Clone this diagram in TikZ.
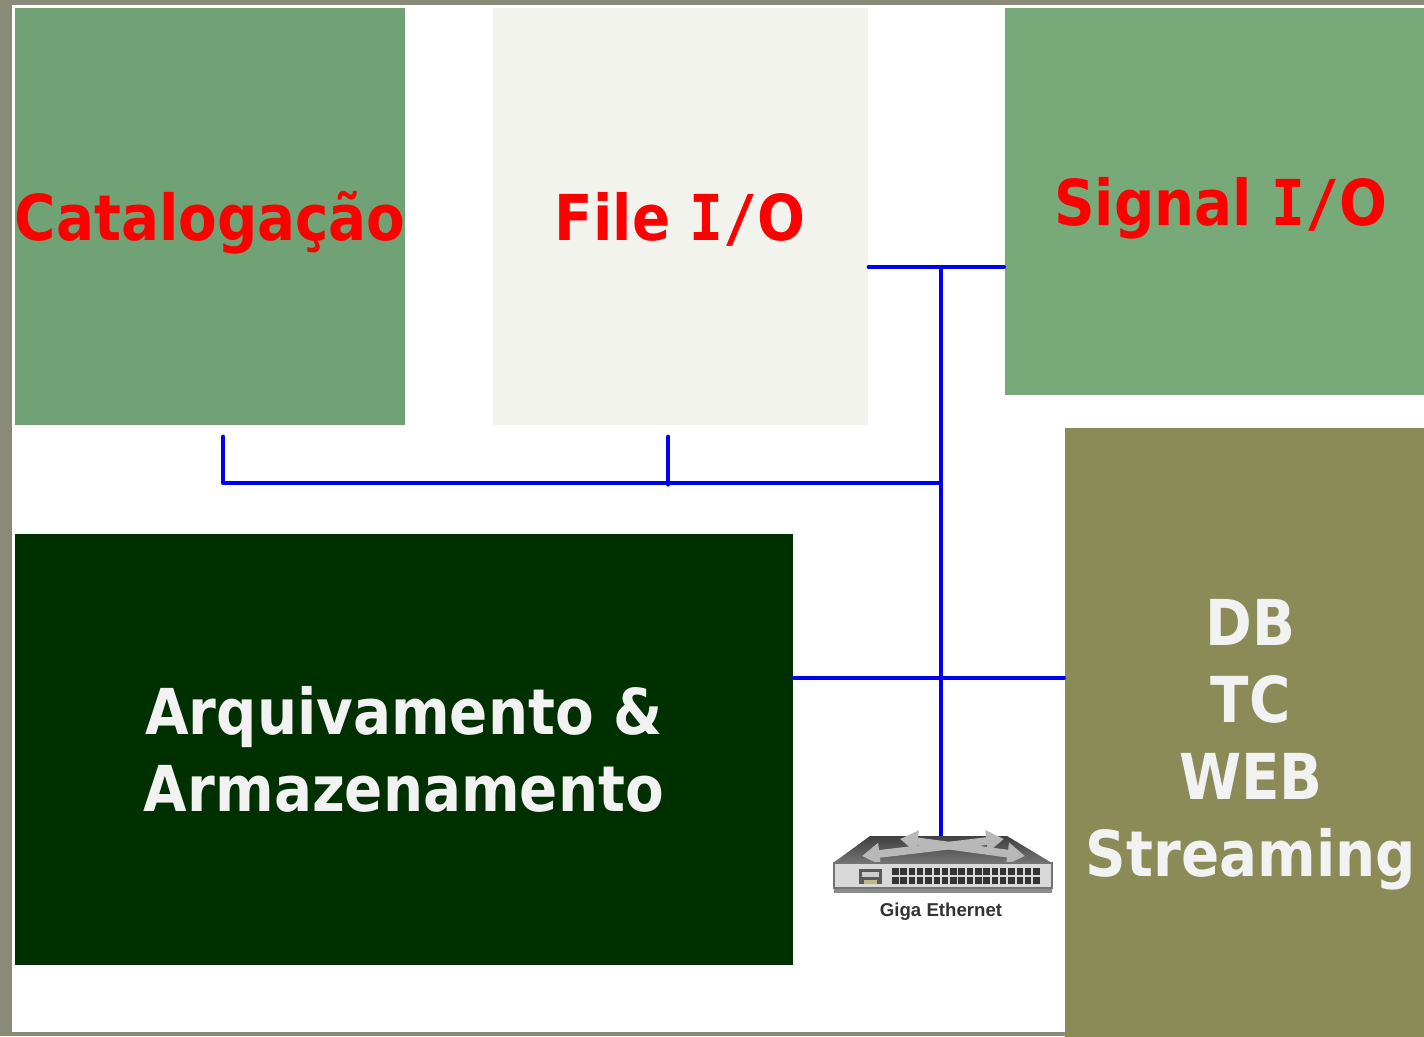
\documentclass[tikz,border=0pt]{standalone}
\usepackage{fontspec}
\newfontfamily\boxfont{DejaVu Sans}[FakeStretch=0.89]
\newfontfamily\slabfont{DejaVu Sans Mono}[FakeStretch=0.89]
\newfontfamily\netfont{Liberation Sans}
\usetikzlibrary{positioning,calc,arrows.meta}

\definecolor{framegray}{HTML}{898A78}
\definecolor{catgreen}{HTML}{71A276}
\definecolor{filebg}{HTML}{F2F3EC}
\definecolor{siggreen}{HTML}{78A978}
\definecolor{arqgreen}{HTML}{003000}
\definecolor{dbolive}{HTML}{8A8B56}
\definecolor{busblue}{HTML}{0000F0}
\definecolor{lighttext}{HTML}{F2F2F2}
\definecolor{netgray}{HTML}{333333}

\newcommand{\iotext}{{\slabfont I/}O}

\begin{document}
\begin{tikzpicture}[x=0.01cm,y=-0.01cm,
	box/.style={rectangle, anchor=north west, inner sep=0pt, align=center, text depth=0pt,
		font=\boxfont\bfseries\fontsize{18}{21.9}\selectfont},
	bus/.style={busblue, line width=1.15pt, line cap=round, line join=round},
	port/.style={fill=netgray}]
	\useasboundingbox (0,0) rectangle (1424,1036);
	\fill[framegray] (0,0) rectangle (1424,1036);
	\fill[white] (12,5) rectangle (1424,1032);
	
	% boxes
	\node[box, fill=catgreen, text=red, minimum width=3.88cm, minimum height=4.17cm] (cat) at (14,7) {Catalogação};
	\node[box, fill=filebg, text=red, minimum width=3.75cm, minimum height=4.17cm] (fileio) at (492,7) {File \iotext};
	\node[box, fill=siggreen, text=red, minimum width=4.20cm, minimum height=3.87cm] (signal) at (1004,7) {\hspace*{0.12cm}Signal \iotext};
	\node[box, fill=arqgreen, text=lighttext, minimum width=7.78cm, minimum height=4.31cm] (arq) at (14,533) {Arquivamento \&\\Armazenamento};
	\node[box, fill=dbolive, text=lighttext, minimum width=3.60cm, minimum height=6.09cm] (db) at (1064,427) {\rule{0pt}{16pt}\hspace*{0.12cm}DB\\\hspace*{0.12cm}TC\\\hspace*{0.12cm}WEB\\\hspace*{0.12cm}Streaming};
	
	% bus
	\coordinate (top) at (941,267);
	\coordinate (hub) at (941,483);
	\coordinate (mid) at (941,678);
	\coordinate (swtop) at (941,836);
	\draw[bus] (fileio.east |- top) -- (signal.west |- top);
	\draw[bus] ($(cat.south)+(13,11)$) |- (hub);
	\draw[bus] ($(fileio.south)+(-12,11)$) -- ($(fileio.south)+(-12,59)$);
	\draw[bus] (arq.east |- mid) -- (db.west |- mid);
	\draw[bus] (top) -- (swtop);
	
	% switch
	\shade[top color=black!75, bottom color=black!55] (870,836) -- (1007,836) -- (1052,863) -- (833,863) -- cycle;
	\draw[black!28, line width=2.2pt, {Triangle[length=5pt,width=6pt]}-{Triangle[length=5pt,width=6pt]}] (862,856) -- (1004,839);
	\draw[black!28, line width=2.2pt, {Triangle[length=5pt,width=6pt]}-{Triangle[length=5pt,width=6pt]}] (900,839) -- (1025,856);
	\fill[black!45] (834,888) rectangle (1052,893);
	\fill[black!15, draw=black!55, line width=0.4pt] (834,863) rectangle (1052,888);
	\fill[black!65] (859,869) rectangle (882,884);
	\fill[black!20] (862,872) rectangle (879,877);
	\fill[yellow!50!black!60] (864,880) rectangle (877,884);
	\foreach \i in {0,...,17}
	{
		\fill[port] (892+\i*8.3,868) rectangle (898.5+\i*8.3,875);
		\fill[port] (892+\i*8.3,877) rectangle (898.5+\i*8.3,884);
	}
	\node[font=\netfont\bfseries\fontsize{5.3}{6}\selectfont, text=netgray] (swlabel) at (941,912) {Giga Ethernet};
\end{tikzpicture}
\end{document}
